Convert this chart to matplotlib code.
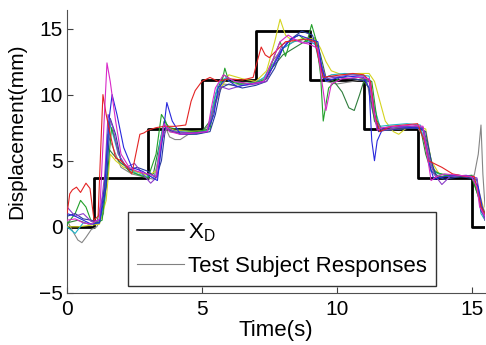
import matplotlib
matplotlib.use("Agg")
import matplotlib.pyplot as plt
from matplotlib.lines import Line2D

plt.rcParams['font.family'] = ['Liberation Sans', 'DejaVu Sans']

# desired position X_D (step)
step_t = [0, 1, 3, 5, 7, 9, 11, 13, 15, 15.5]
step_y = [0, 3.7, 7.4, 11.1, 14.8, 11.1, 7.4, 3.7, 0, 0]

# test subject responses, (time, displacement)
red = [(0, 1.0), (0.1, 2.5), (0.2, 2.8), (0.35, 3.0), (0.5, 2.6), (0.7, 3.3), (0.85, 2.9), (1.0, 0.5),
       (1.15, 0.8), (1.25, 6.0), (1.33, 10.0), (1.45, 8.5), (1.6, 7.0), (1.8, 5.2), (2.0, 5.0), (2.2, 4.6),
       (2.4, 4.0), (2.55, 5.5), (2.7, 7.0), (2.85, 7.1), (3.0, 7.3), (3.3, 7.5), (3.6, 7.6), (4.0, 7.6),
       (4.4, 7.7), (4.6, 9.5), (4.75, 10.3), (5.0, 11.0), (5.3, 11.3), (5.6, 11.0), (6.0, 11.2), (6.5, 11.1),
       (6.9, 11.3), (7.05, 12.5), (7.2, 13.6), (7.35, 13.0), (7.5, 12.8), (7.8, 13.4), (8.1, 14.0), (8.5, 14.1),
       (8.9, 14.2), (9.2, 14.0), (9.35, 12.5), (9.5, 11.3), (9.8, 11.4), (10.2, 11.5), (10.6, 11.6), (11.0, 11.5),
       (11.25, 11.0), (11.4, 8.5), (11.6, 7.2), (12.0, 7.6), (12.5, 7.7), (13.0, 7.8), (13.25, 6.5), (13.4, 5.0),
       (13.6, 4.8), (13.9, 4.5), (14.3, 4.0), (14.8, 3.8), (15.1, 3.8), (15.25, 2.5), (15.35, 1.5), (15.5, 1.0)]

magenta = [(0, 0.5), (0.3, 0.6), (0.6, 0.3), (0.9, 0.2), (1.2, 0.6), (1.35, 7.0), (1.48, 12.4), (1.6, 11.0),
           (1.8, 8.0), (2.0, 5.5), (2.3, 4.5), (2.6, 4.2), (3.0, 4.0), (3.3, 3.8), (3.45, 6.0), (3.6, 7.8),
           (3.8, 7.2), (4.2, 7.0), (4.8, 7.1), (5.2, 7.2), (5.35, 9.0), (5.5, 10.5), (5.8, 11.5), (6.2, 11.0),
           (6.8, 10.8), (7.3, 11.0), (7.6, 12.5), (7.9, 14.0), (8.2, 14.5), (8.6, 14.0), (9.0, 13.8), (9.3, 13.5),
           (9.45, 11.0), (9.6, 8.8), (9.8, 10.8), (10.2, 11.2), (10.8, 11.3), (11.2, 11.2), (11.35, 9.0),
           (11.5, 7.3), (11.7, 7.5), (12.2, 7.6), (12.8, 7.7), (13.2, 7.6), (13.35, 5.5), (13.5, 3.5), (13.7, 3.8),
           (14.0, 4.0), (14.5, 3.9), (15.0, 3.8), (15.2, 3.0), (15.3, 1.5), (15.5, 0.8)]

blue = [(0, 1.0), (0.3, 0.8), (0.6, 0.5), (0.9, 0.2), (1.2, 0.3), (1.4, 3.0), (1.55, 8.0), (1.67, 10.0),
        (1.85, 8.5), (2.1, 6.0), (2.4, 4.5), (2.8, 4.2), (3.1, 3.8), (3.35, 3.5), (3.5, 6.0), (3.7, 9.4),
        (3.9, 8.0), (4.2, 7.0), (4.8, 7.1), (5.2, 7.2), (5.45, 8.5), (5.6, 10.5), (5.9, 11.2), (6.3, 10.6),
        (6.8, 10.8), (7.3, 11.0), (7.6, 12.0), (8.0, 13.5), (8.3, 14.2), (8.6, 14.5), (9.0, 14.2), (9.3, 14.0),
        (9.45, 12.0), (9.6, 11.0), (9.9, 11.2), (10.4, 11.4), (11.0, 11.3), (11.2, 10.5), (11.3, 6.5),
        (11.4, 5.0), (11.5, 6.5), (11.7, 7.4), (12.2, 7.6), (12.8, 7.5), (13.2, 7.4), (13.4, 5.0), (13.6, 3.6),
        (14.0, 3.8), (14.5, 3.9), (15.0, 3.8), (15.25, 3.0), (15.4, 1.5), (15.5, 1.0)]

green = [(0, 0.2), (0.3, 1.0), (0.5, 2.0), (0.7, 1.5), (0.9, 0.4), (1.1, 0.3), (1.3, 0.5), (1.5, 4.0),
         (1.65, 7.5), (1.8, 6.5), (2.0, 5.0), (2.3, 4.2), (2.7, 3.9), (3.0, 3.7), (3.3, 5.5), (3.5, 8.5),
         (3.65, 8.0), (3.8, 7.2), (4.2, 7.1), (4.8, 7.2), (5.3, 7.4), (5.5, 9.5), (5.75, 11.0), (5.85, 12.0),
         (6.0, 11.0), (6.4, 10.8), (7.0, 10.9), (7.4, 11.2), (7.7, 13.0), (7.9, 14.0), (8.1, 12.9), (8.3, 14.2),
         (8.6, 14.5), (8.9, 14.0), (9.07, 15.3), (9.25, 14.0), (9.4, 11.5), (9.5, 8.0), (9.7, 10.5),
         (10.1, 11.3), (10.5, 11.2), (10.8, 11.3), (11.0, 11.2), (11.3, 11.0), (11.5, 8.0), (11.7, 7.3),
         (12.2, 7.5), (12.8, 7.6), (13.2, 7.5), (13.4, 6.0), (13.6, 4.2), (14.0, 3.9), (14.6, 3.8), (15.0, 3.9),
         (15.3, 2.0), (15.5, 0.5)]

cyan = [(0, 0.0), (0.3, -0.5), (0.6, 0.3), (0.9, 0.2), (1.2, 0.3), (1.4, 2.0), (1.55, 8.0), (1.7, 7.0),
        (1.9, 5.5), (2.2, 4.5), (2.6, 4.0), (3.0, 3.8), (3.3, 3.9), (3.45, 6.5), (3.6, 7.8), (3.8, 7.3),
        (4.2, 7.2), (4.8, 7.1), (5.2, 7.3), (5.4, 9.0), (5.6, 10.8), (5.9, 11.3), (6.4, 10.8), (7.0, 10.9),
        (7.3, 11.3), (7.7, 12.5), (8.0, 13.5), (8.4, 14.0), (8.8, 14.2), (9.2, 13.8), (9.4, 12.0), (9.55, 11.2),
        (9.8, 11.5), (10.3, 11.6), (10.8, 11.5), (11.2, 11.4), (11.4, 9.0), (11.6, 7.6), (12.0, 7.7),
        (12.6, 7.8), (13.1, 7.7), (13.3, 6.0), (13.5, 4.2), (13.8, 4.0), (14.3, 3.9), (14.9, 3.8), (15.2, 3.5),
        (15.35, 1.0), (15.5, 0.5)]

yellow = [(0, 0.0), (0.4, 0.0), (0.8, 0.1), (1.2, 0.2), (1.45, 2.0), (1.6, 5.5), (1.8, 5.0), (2.1, 4.5),
          (2.5, 4.2), (3.0, 3.9), (3.3, 4.2), (3.5, 6.5), (3.7, 7.5), (4.0, 7.3), (4.6, 7.2), (5.2, 7.3),
          (5.45, 9.0), (5.7, 10.5), (6.0, 11.5), (6.5, 11.2), (7.0, 11.0), (7.4, 11.8), (7.7, 14.0), (7.9, 15.7),
          (8.1, 14.5), (8.4, 14.0), (8.8, 14.3), (9.2, 14.2), (9.4, 13.5), (9.6, 12.5), (9.8, 11.8), (10.2, 11.5),
          (10.8, 11.6), (11.2, 11.6), (11.4, 11.0), (11.6, 9.5), (11.8, 8.0), (12.1, 7.2), (12.3, 7.0),
          (12.6, 7.5), (13.0, 7.6), (13.3, 7.4), (13.5, 5.0), (13.8, 4.0), (14.4, 3.9), (15.0, 3.8), (15.3, 2.5),
          (15.5, 1.0)]

purple = [(0, 1.5), (0.3, 0.8), (0.6, 1.0), (0.9, 0.4), (1.2, 0.5), (1.4, 4.0), (1.52, 8.5), (1.7, 7.5),
          (1.9, 5.5), (2.2, 4.5), (2.5, 4.8), (2.8, 4.0), (3.1, 3.3), (3.35, 3.8), (3.5, 6.5), (3.7, 7.5),
          (4.0, 7.2), (4.6, 7.1), (5.2, 7.2), (5.45, 9.0), (5.7, 10.6), (6.0, 10.4), (6.5, 10.7), (7.0, 10.8),
          (7.4, 11.0), (7.7, 12.5), (8.0, 13.8), (8.4, 14.2), (8.8, 13.9), (9.2, 14.0), (9.4, 12.5), (9.6, 11.2),
          (9.9, 11.3), (10.5, 11.5), (11.0, 11.4), (11.25, 11.0), (11.45, 8.0), (11.7, 7.3), (12.3, 7.5),
          (12.9, 7.6), (13.2, 7.5), (13.4, 5.5), (13.6, 4.0), (13.9, 3.2), (14.2, 3.8), (14.8, 3.9), (15.2, 3.7),
          (15.35, 1.5), (15.5, 0.5)]

darkgreen = [(0, 0.3), (0.4, 0.5), (0.8, 0.2), (1.1, 0.3), (1.35, 2.5), (1.5, 6.0), (1.7, 5.5), (2.0, 4.8),
             (2.4, 4.3), (2.8, 4.0), (3.2, 4.0), (3.45, 6.5), (3.6, 8.0), (3.8, 7.5), (4.3, 7.3), (5.0, 7.2),
             (5.3, 8.0), (5.5, 10.0), (5.8, 11.5), (6.2, 11.0), (6.8, 10.8), (7.3, 11.0), (7.6, 12.0), (8.0, 13.0),
             (8.4, 13.5), (8.8, 14.0), (9.2, 14.3), (9.4, 13.0), (9.6, 11.3), (9.9, 11.0), (10.2, 10.2),
             (10.45, 9.0), (10.65, 8.8), (10.85, 10.0), (11.0, 11.0), (11.2, 10.5), (11.4, 8.0), (11.6, 7.4),
             (12.0, 7.6), (12.6, 7.5), (13.1, 7.5), (13.3, 5.5), (13.5, 4.2), (13.8, 3.8), (14.4, 3.9),
             (15.0, 3.8), (15.3, 2.0), (15.5, 0.8)]

gray = [(0, 0.5), (0.2, -0.3), (0.4, -1.0), (0.55, -1.2), (0.7, -0.8), (0.9, -0.2), (1.1, 0.0), (1.35, 1.0),
        (1.5, 7.0), (1.7, 6.0), (2.0, 4.5), (2.4, 4.0), (2.8, 3.8), (3.2, 3.6), (3.45, 5.5), (3.6, 7.8),
        (3.8, 6.8), (4.0, 6.6), (4.2, 6.6), (4.5, 7.0), (5.0, 7.1), (5.3, 7.8), (5.5, 9.5), (5.8, 10.8),
        (6.2, 10.7), (6.8, 10.9), (7.3, 11.2), (7.6, 12.5), (8.0, 13.5), (8.4, 14.0), (8.8, 14.2), (9.2, 14.0),
        (9.4, 12.5), (9.6, 11.0), (10.0, 10.8), (10.6, 11.0), (11.1, 11.2), (11.3, 9.0), (11.5, 7.5),
        (11.8, 7.3), (12.4, 7.4), (13.0, 7.5), (13.3, 6.5), (13.5, 4.5), (13.8, 4.0), (14.5, 3.8), (15.1, 3.9),
        (15.25, 5.5), (15.35, 7.7), (15.42, 4.0), (15.5, 1.5)]

navy = [(0, 0.8), (0.3, 1.0), (0.6, 0.6), (0.9, 0.5), (1.2, 0.3), (1.45, 3.0), (1.6, 8.2), (1.8, 7.0),
        (2.0, 5.0), (2.3, 4.3), (2.6, 4.5), (3.0, 4.2), (3.3, 3.7), (3.5, 5.0), (3.65, 7.5), (3.8, 7.3),
        (4.2, 7.0), (4.8, 7.0), (5.3, 7.2), (5.5, 8.5), (5.7, 10.5), (6.0, 10.8), (6.5, 10.5), (7.0, 10.7),
        (7.4, 11.0), (7.7, 12.0), (8.0, 13.5), (8.3, 14.2), (8.7, 14.8), (9.1, 14.5), (9.35, 12.8), (9.5, 11.2),
        (9.7, 11.4), (10.0, 11.3), (10.6, 11.2), (11.2, 11.0), (11.4, 8.5), (11.55, 7.2), (11.8, 7.3),
        (12.4, 7.4), (13.0, 7.5), (13.3, 7.2), (13.5, 5.0), (13.7, 3.8), (14.0, 3.6), (14.6, 3.8), (15.2, 3.6),
        (15.35, 1.2), (15.5, 0.7)]

subjects = [gray, darkgreen, yellow, cyan, green, navy, purple, blue, red, magenta]
colors = ['#858585', '#2e7d3c', '#d4d420', '#20b4c8', '#22a02a', '#283c9c', '#8c3cc8', '#2828dc',
          '#e42424', '#d828c8']

fig = plt.figure(figsize=(4.86, 3.45), dpi=100)
ax = fig.add_axes([0.138, 0.151, 0.860, 0.820])

ax.plot(step_t, step_y, drawstyle='steps-post', color='black', lw=2.0, zorder=2)
for s, c in zip(subjects, colors):
    t, y = zip(*s)
    ax.plot(t, y, color=c, lw=0.8, zorder=3)

ax.set_xlim(0, 15.5)
ax.set_ylim(-5, 16.4)
ax.set_xticks([0, 5, 10, 15])
ax.set_yticks([-5, 0, 5, 10, 15])
ax.tick_params(direction='in', length=4, labelsize=15, color='#404040')
ax.tick_params(axis='x', pad=5)
ax.tick_params(axis='y', pad=3)
for side in ['top', 'right']:
    ax.spines[side].set_visible(False)
for side in ['left', 'bottom']:
    ax.spines[side].set_color('#505050')
ax.set_xlabel('Time(s)', fontsize=16, labelpad=1)
ax.set_ylabel('Displacement(mm)', fontsize=15)
ax.yaxis.set_label_coords(-0.098, 0.572)

handles = [Line2D([], [], color='black', lw=1.1),
           Line2D([], [], color='#808080', lw=0.8)]
leg = ax.legend(handles, [r'X$_\mathregular{D}$', 'Test Subject Responses'],
                loc='lower left', bbox_to_anchor=(0.146, 0.025), fontsize=16,
                frameon=True, fancybox=False, handlelength=2.1, handletextpad=0.2,
                borderpad=0.4, labelspacing=0.55, borderaxespad=0)
leg.get_frame().set_edgecolor('black')
leg.get_frame().set_linewidth(1.0)

fig.savefig('out.png', dpi=100)
